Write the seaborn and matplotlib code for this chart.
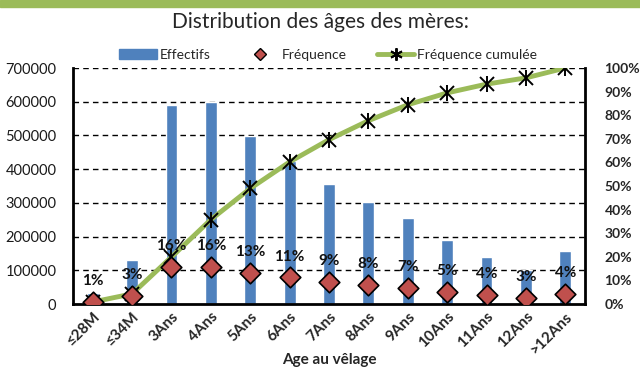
import matplotlib
matplotlib.use("Agg")
import matplotlib.pyplot as plt
from matplotlib.lines import Line2D
from matplotlib.patches import Patch, Rectangle
import numpy as np
import pandas as pd
import seaborn as sns

# Calving age classes and herd counts
categories = ["≤28M", "≤34M", "3Ans", "4Ans", "5Ans", "6Ans", "7Ans",
              "8Ans", "9Ans", "10Ans", "11Ans", "12Ans", ">12Ans"]
effectifs = [32000, 130000, 590000, 598000, 498000, 425000, 356000,
             303000, 255000, 190000, 140000, 100000, 158000]

left_ticks = [0, 100000, 200000, 300000, 400000, 500000, 600000, 700000]
right_ticks = [0, 10, 20, 30, 40, 50, 60, 70, 80, 90, 100]

total = sum(effectifs)
frequence = [100 * e / total for e in effectifs]
cumulee = list(np.cumsum(frequence))

df = pd.DataFrame({"age": categories, "effectifs": effectifs,
                   "frequence": frequence, "cumulee": cumulee})

sns.set_style("white")
plt.rcParams["font.family"] = ["Lato", "DejaVu Sans"]

BLUE = "#4F81BD"
RED = "#C0504D"
GREEN = "#9BBB59"

fig = plt.figure(figsize=(6.4, 3.67), dpi=100)
ax = fig.add_axes([73 / 640, 1 - 304 / 367, 512 / 640, 236 / 367])

sns.barplot(data=df, x="age", y="effectifs", color=BLUE, width=0.3,
            saturation=1, ax=ax, zorder=2)
ax.set_ylim(0, 700000)
ax.set_xlim(-0.5, len(categories) - 0.5)
ax.set_yticks(left_ticks)
ax.set_yticklabels([str(t) for t in left_ticks], fontsize=10.5, color="#1a1a1a")
for t in left_ticks[1:]:
    ax.axhline(t, color="black", lw=1.0, ls=(0, (4, 3)), zorder=1)
ax.set_xticks(range(len(categories)))
ax.set_xticklabels(categories, rotation=45, ha="right", rotation_mode="anchor",
                   fontsize=11, fontweight="bold")
ax.tick_params(axis="x", length=0, pad=4)
ax.tick_params(axis="y", length=0, pad=12)
ax.set_ylabel("")
for side in ["top", "right"]:
    ax.spines[side].set_visible(False)
for side in ["left", "bottom"]:
    ax.spines[side].set_linewidth(2)
    ax.spines[side].set_color("black")

ax2 = ax.twinx()
ax2.set_ylim(0, 100)
sns.lineplot(data=df, x="age", y="cumulee", color=GREEN, lw=3.5, ax=ax2,
             sort=False, zorder=3)
ax2.plot(range(len(categories)), cumulee, ls="none", marker="x", ms=10,
         mew=1.4, color="black", zorder=4)
ax2.plot(range(len(categories)), cumulee, ls="none", marker="|", ms=11,
         mew=1.4, color="black", zorder=4)
sns.scatterplot(data=df, x="age", y="frequence", marker="D", s=110,
                color=RED, edgecolor="black", linewidth=1.2, ax=ax2, zorder=5)
for i, f in enumerate(frequence):
    ax2.annotate(f"{round(f)}%", (i, f), xytext=(0, 10), textcoords="offset points",
                 ha="center", va="bottom", fontsize=11, fontweight="bold",
                 color="#111111", zorder=6)
ax2.set_yticks(right_ticks)
ax2.set_yticklabels([f"{t}%" for t in right_ticks], fontsize=10, fontweight="bold")
ax2.tick_params(axis="y", length=0, pad=14)
ax2.set_ylabel("")
ax2.set_xlabel("Age au vêlage", fontsize=11, fontweight="bold", labelpad=-3)
ax.set_xlabel("Age au vêlage", fontsize=11, fontweight="bold", labelpad=-3)
ax2.set_xlim(-0.5, len(categories) - 0.5)
for side in ["top", "left", "bottom"]:
    ax2.spines[side].set_visible(False)
ax2.spines["right"].set_linewidth(2)
ax2.spines["right"].set_color("black")

fig.text(0.5, 1 - 22 / 367, "Distribution des âges des mères:", ha="center",
         va="center", fontsize=15)
fig.add_artist(Rectangle((0, 1 - 7 / 367), 1, 7 / 367, transform=fig.transFigure,
                         color=GREEN, zorder=0))

star = Line2D([], [], color=GREEN, lw=3.5, marker=(6, 2, 0), ms=9,
              mec="black", mew=1.4)
handles = [Patch(color=BLUE),
           Line2D([], [], ls="none", marker="D", ms=6, mfc=RED, mec="black", mew=1),
           star]
fig.legend(handles, ["Effectifs", "Fréquence", "Fréquence cumulée"],
           loc="center", bbox_to_anchor=(0.513, 1 - 55 / 367), ncol=3,
           frameon=False, fontsize=10, handlelength=2.7, handletextpad=0.2,
           columnspacing=2.2)

fig.savefig("out.png", dpi=100)
